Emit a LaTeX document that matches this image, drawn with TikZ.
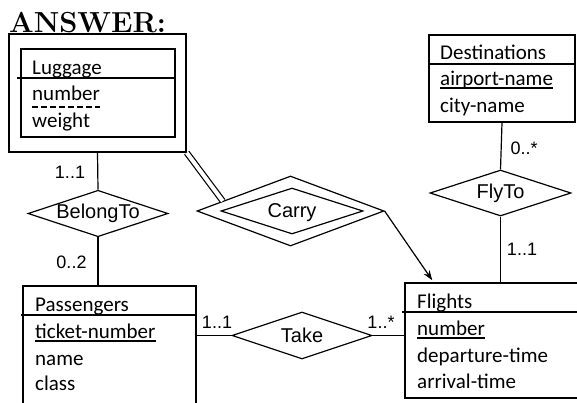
\documentclass[tikz,border=0pt]{standalone}
\usepackage{fontspec}
\usetikzlibrary{arrows.meta, calc, shapes.geometric}
\newfontfamily\entityfont{Carlito}
\newfontfamily\relfont{Liberation Sans}

\tikzset{
  entity/.style={draw, rectangle, line width=1.5pt, inner sep=0pt},
  attr/.style={anchor=base west, inner sep=0pt, font=\entityfont\fontsize{21}{21}\selectfont},
  relation/.style={draw, diamond, aspect=3, line width=1.2pt, inner sep=0pt, font=\relfont\fontsize{20}{20}\selectfont},
  card/.style={inner sep=0pt, font=\relfont\fontsize{18}{18}\selectfont},
  link/.style={line width=1.2pt},
}

\begin{document}
\begin{tikzpicture}[x=1pt, y=-1pt]
            \useasboundingbox (0,0) rectangle (577,402);
            \clip (0,0) rectangle (577,402);

            \node[anchor=base west, inner sep=0pt, font=\fontsize{29}{29}\selectfont\bfseries] (answer) at (9,32) {ANSWER:};

            % entity boxes
            \node[entity, minimum width=177pt, minimum height=118pt] (luggage) at (97.5,93) {};
            \node[entity, minimum width=154pt, minimum height=88pt] (luggagein) at (98,93) {};
            \node[entity, minimum width=173pt, minimum height=154pt] (passengers) at (109.5,363) {};
            \node[entity, minimum width=195pt, minimum height=115pt] (flights) at (502.5,340.5) {};
            \node[entity, minimum width=146pt, minimum height=87pt] (destinations) at (502,78.5) {};

            % header lines
            \draw[line width=1.5pt] ([xshift=-3pt]luggagein.west |- 0,78) -- (luggagein.east |- 0,78);
            \draw[line width=1.5pt] ([xshift=-1pt]passengers.west |- 0,315) -- (passengers.east |- 0,315);
            \draw[line width=1.5pt] ([xshift=-2pt]flights.west |- 0,312) -- (flights.east |- 0,312);
            \draw[line width=1.5pt] (destinations.west |- 0,64) -- (destinations.east |- 0,64);

            % attributes
            \node[attr] (lugname)   at (32,74)  {Luggage};
            \node[attr] (lugnumber) at (32,100) {number};
            \node[attr] (lugweight) at (32,127) {weight};
            \draw[line width=1.2pt, dash pattern=on 6pt off 3pt] ([yshift=-7pt]lugnumber.base west) -- ([yshift=-7pt]lugnumber.base east);

            \node[attr] (pasname)   at (35,311) {Passengers};
            \node[attr] (pasticket) at (35,338) {ticket-number};
            \node[attr] (pasperson) at (35,365) {name};
            \node[attr] (pasclass)  at (35,390) {class};
            \draw[line width=1.2pt] ([yshift=-3pt]pasticket.base west) -- ([yshift=-3pt]pasticket.base east);

            \node[attr] (fltname)   at (417,308) {Flights};
            \node[attr] (fltnumber) at (417,335) {number};
            \node[attr] (fltdep)    at (417,362) {departure-time};
            \node[attr] (fltarr)    at (417,388) {arrival-time};
            \draw[line width=1.2pt] ([yshift=-3pt]fltnumber.base west) -- ([yshift=-3pt]fltnumber.base east);

            \node[attr] (dstname)    at (440,59)  {Destinations};
            \node[attr] (dstairport) at (440,85)  {airport-name};
            \node[attr] (dstcity)    at (440,112) {city-name};
            \draw[line width=1.2pt] ([yshift=-3pt]dstairport.base west) -- ([yshift=-3pt]dstairport.base east);

            % relationships
            \node[relation, minimum width=140pt, minimum height=45pt] (belongto) at (98,213.5) {BelongTo};
            \node[relation, minimum width=140pt, minimum height=47pt] (take) at (302,335.5) {Take};
            \node[relation, minimum width=141pt, minimum height=46pt] (flyto) at (500.5,193) {FlyTo};
            \node[relation, minimum width=187pt, minimum height=70pt] (carryout) at (290.5,211) {};
            \node[relation, minimum width=142pt, minimum height=46pt, text depth=0pt] (carry) at (292,211) {Carry};

            % connectors
            \draw[link] (luggage.south) -- (belongto.north);
            \draw[link] (belongto.south) -- (belongto.south |- passengers.north);
            \draw[link] (take.west) -- (take.west -| passengers.east);
            \draw[link] (take.east) -- (take.east -| flights.west);
            \draw[link] (destinations.south) -- (flyto.north);
            \draw[link] (flyto.south) -- (flyto.south |- flights.north);
            \draw[link, double, double distance=4pt] (luggage.south east) -- ($(carryout.west)!0.28!(carryout.north)$);
            \draw[link, -{Stealth[length=10pt, width=7pt]}] (carryout.east) -- ($(flights.north west)+(28,-2)$);

            % cardinalities
            \node[card] (c1) at (70,172)  {1..1};
            \node[card] (c2) at (71.5,262) {0..2};
            \node[card] (c3) at (217,322) {1..1};
            \node[card] (c4) at (381,322) {1..*};
            \node[card] (c5) at (524,148) {0..*};
            \node[card] (c6) at (522,249) {1..1};
        \end{tikzpicture}
\end{document}
